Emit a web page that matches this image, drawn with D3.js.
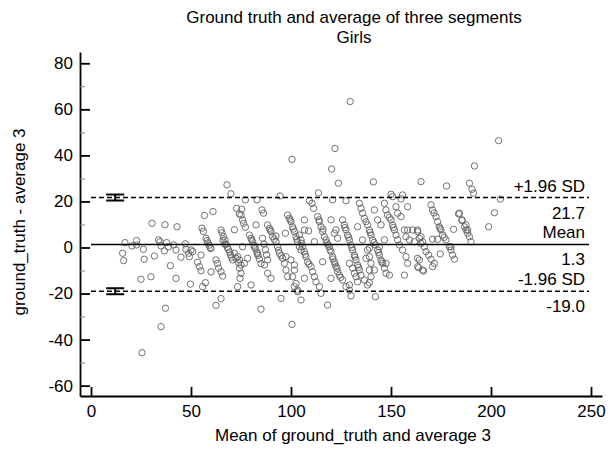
<!DOCTYPE html>
<html>
<head>
<meta charset="utf-8">
<script src="https://cdn.jsdelivr.net/npm/d3@7"></script>
<style>
  body { margin: 0; background: #fff; }
  svg text { font-family: "Liberation Sans", Arial, sans-serif; font-size: 17px; fill: #000; }
</style>
</head>
<body>
<div id="chart"></div>
<script>
// [mean, difference] pairs
const sparseLeft = [
  [17.0,2.1],[15.8,-2.5],[16.3,-5.7],[20.5,0.7],[22.8,3.0],[22.8,1.1],[26.2,-0.8],[26.6,-5.1],
  [25.0,-13.8],[25.5,-45.7],[30.5,10.5],[31.7,-3.7],[30.0,-12.7],[35.0,-34.4],[37.2,-26.4],
  [33.8,3.3],[34.5,2.5],[37.0,9.9],[35.0,0.7],[37.8,2.1],[36.7,-1.5],[38.7,0.3],[39.7,-7.9],
  [43.0,9.0],[42.5,-1.1],[42.5,-13.4],[41.3,1.1],[45.0,-4.2],[47.2,1.6],[47.5,-0.8],[48.8,-2.5],
  [50.0,-1.1],[50.8,-1.8],[49.2,-4.0],[49.7,-15.9],[53.3,-6.4],[54.2,-8.3],[55.0,-10.1],[55.0,-3.3]
];
const band55to100 = [
  [55.5,8.4],[56.2,7.0],[56.7,13.9],[61.0,15.6],[57.5,4.0],[58.0,3.0],[58.5,2.0],[59.0,1.0],[59.5,0.0],[60.0,-0.5],
  [60.0,-10.6],[62.5,-5.4],[63.2,-6.9],[63.8,-9.0],[65.0,-10.5],[65.8,-12.4],[55.8,-17.0],[57.2,-15.3],
  [62.5,-25.1],[65.0,-22.2],[65.0,7.6],[65.5,6.4],[66.2,4.7],[67.0,3.3],[67.5,1.4],[68.2,0.0],[68.7,-0.9],
  [69.3,-2.0],[69.8,-3.3],[70.3,-4.3],[70.8,-5.4],[66.0,3.0],[66.8,1.5],
  [68.0,27.2],[70.0,23.3],[71.7,7.7],[72.8,17.0],[75.3,16.6],[75.0,14.1],[75.8,11.9],[76.3,10.5],[77.2,8.8],[74.2,14.6],
  [71.7,-2.5],[73.3,-4.0],[74.2,-5.4],[75.0,-7.6],[74.2,-9.0],[75.0,-11.2],[74.5,-13.4],[73.3,-17.0],[72.5,-4.7],[73.8,-6.6],
  [75.8,0.3],[78.3,-4.7],[76.7,-6.9],[77.2,20.7],[80.0,-16.3],
  [82.5,9.8],[83.0,20.7],[85.5,16.3],[86.3,14.9],
  [79.2,5.4],[80.0,4.0],[80.8,2.5],[81.5,1.0],[82.2,-0.5],[83.0,-2.0],[83.5,-3.5],[84.2,-5.0],[85.0,-7.0],
  [80.4,3.2],[81.8,0.2],[83.2,-2.7],
  [85.8,4.0],[86.5,1.5],[87.2,-1.0],[87.8,-3.2],[88.3,-5.4],
  [86.7,-7.6],[88.3,-11.2],[90.0,-13.4],[85.0,-26.8],[95.0,-22.1],[100.5,-33.4],
  [88.3,9.8],[89.2,8.3],[90.0,6.9],[90.8,4.7],[92.5,2.5],[93.3,0.3],[94.2,-2.5],[95.8,-4.7],[96.7,-6.9],
  [97.5,-9.8],[98.3,-12.7],[89.6,7.6],[91.6,3.6],[93.8,-1.2],[95.0,-3.6],
  [97.2,6.2],[92.5,5.0],[94.5,22.4],[100.5,38.3],
  [98.3,14.1],[99.2,12.7],[100.0,11.2],[100.8,9.0],[101.7,6.9],[102.5,4.7],[103.3,2.5],[104.2,0.3],[105.0,-1.1],
  [99.6,12.0],[101.2,8.0],[102.9,3.6],
  [97.5,-4.0],[100.0,-5.4],[101.7,-7.6],[101.7,-9.8],[100.8,-12.7],[102.5,-15.6],[103.3,-18.5],[101.7,-17.0],[103.3,-19.2]
];
const band100to140 = [
  [106.7,12.0],[106.7,7.6],[106.7,-13.4],[105.0,-22.8],[109.2,20.3],[110.5,19.2],[111.3,17.0],[108.8,7.2],[111.7,2.5],
  [104.2,5.4],[105.0,3.3],[105.8,0.3],[106.7,-1.8],[107.5,-4.0],[108.3,-6.2],[110.0,-8.3],[110.8,-10.5],[111.7,-12.7],
  [112.5,-14.9],[114.2,-17.0],[115.0,-19.9],[105.4,1.8],[107.1,-3.0],[109.0,-7.2],
  [118.3,-25.0],[115.8,-6.2],[120.0,-13.4],[113.7,23.7],[120.8,20.7],[127.5,20.3],[120.3,34.1],[122.0,43.0],[123.7,27.9],[129.6,63.4],
  [113.3,13.4],[114.2,11.2],[115.0,9.0],[115.8,6.9],[116.7,4.7],[117.5,3.3],[119.2,0.3],[120.0,-1.8],[120.8,-4.0],
  [121.7,-6.2],[122.5,-8.3],[123.3,-10.5],[124.2,-12.0],[125.8,-14.1],[127.5,-17.0],[129.2,-18.5],[130.0,-21.0],
  [114.0,12.0],[116.0,8.0],[118.0,2.0],[119.5,-1.0],[121.0,-5.0],[123.0,-9.0],[118.5,1.2],[122.0,-7.2],[124.8,-13.0],
  [120.0,12.0],[122.5,7.6],[121.7,6.2],[123.3,4.0],
  [125.8,12.0],[126.7,9.8],[127.5,7.6],[128.3,5.4],[129.2,3.3],[130.0,1.1],[130.8,-1.1],[131.7,-3.3],[132.5,-5.4],
  [133.3,-7.6],[134.2,-9.8],[135.0,-12.0],[136.7,-14.1],[138.3,-16.3],[127.0,8.6],[128.8,4.4],[130.4,0.0],[132.0,-4.2],[133.8,-8.6],
  [129.2,-6.9],[130.8,-9.0],[131.7,-11.2],[132.5,-12.7],[133.3,-14.9],[129.2,-16.3],
  [133.3,9.0],[135.8,3.3],[138.3,-1.1],[139.2,-4.0],[140.0,-6.9],[139.2,-9.8],[140.0,-12.7],[139.2,-15.3],[142.2,-21.4],
  [137.5,-4.7],[139.2,-0.3]
];
const band135to170 = [
  [134.2,19.2],[135.0,17.0],[135.8,14.9],[136.7,12.7],[138.3,9.8],[139.2,7.6],[140.0,5.4],[140.8,3.3],[142.2,1.1],
  [143.3,-1.1],[144.2,-3.3],[145.0,-5.4],[145.8,-6.9],[146.7,-9.0],[147.5,-11.2],[137.5,11.2],[139.6,6.5],[141.5,2.2],
  [143.8,-2.2],[145.4,-6.2],
  [141.7,16.3],[143.3,12.0],[145.0,9.8],[146.7,3.3],[144.2,0.3],[141.7,-9.8],[141.2,28.5],
  [146.7,19.2],[147.5,16.3],[148.3,14.1],[150.0,12.0],[150.8,9.8],[151.7,7.6],[152.5,5.4],[153.3,3.3],[154.2,1.1],
  [149.2,13.0],[151.2,8.7],
  [150.8,22.1],[152.5,17.7],[153.3,14.9],[155.0,13.4],[158.3,17.7],[150.0,23.1],[155.8,22.8],[155.0,21.1],
  [156.7,7.6],[158.3,7.6],[160.8,7.6],[163.3,6.9],[157.5,4.7],[159.2,3.3],[161.7,2.5],[164.2,4.0],[165.0,1.8],
  [155.8,-1.1],[157.5,-4.0],[158.3,-6.9],[156.7,-12.0],[163.3,-4.7],[163.3,-8.3],[165.8,-9.8],[147.5,-6.9],[149.2,-12.0],
  [165.0,28.6]
];
const band160to210 = [
  [166.3,-10.2],[163.8,-8.8],[170.8,-8.3],[171.7,-6.9],[170.0,-5.1],[168.8,-3.3],[167.5,-1.8],[166.7,0.3],[165.8,2.5],
  [165.0,4.7],[163.3,7.6],[164.2,-5.4],
  [170.0,18.5],[170.8,16.3],[172.5,13.4],[173.3,11.2],[174.2,9.0],[175.0,7.6],[175.8,5.4],[177.5,3.3],[179.2,0.3],
  [180.0,-1.1],[180.8,-3.3],[181.7,-5.1],[171.5,15.0],[174.6,8.2],[176.6,4.4],
  [181.3,7.9],[184.2,14.9],[185.5,12.0],[187.5,9.8],[188.3,7.6],[174.6,-2.8],[180.0,0.3],
  [183.8,14.6],[185.5,11.7],[186.7,9.0],[187.5,7.6],[188.3,6.2],[189.2,4.7],[190.0,2.5],
  [170.8,3.6],[173.3,3.6],
  [177.8,26.7],[189.2,27.9],[190.5,25.3],[191.3,23.6],[191.7,35.4],[203.8,46.4],[204.7,21.0],[201.7,15.1],[198.8,9.0]
];

const limitNames = ["+1.96 SD", "Mean", "-1.96 SD"];
const limitValues = [21.7, 1.3, -19.0];
const limitCI = [[20.4, 23.0], null, [-20.3, -17.7]];
const ciMeanX = 12.1;
const lineRange = [0, 249];
const xTicks = [0, 50, 100, 150, 200, 250];
const yTicks = [-60, -40, -20, 0, 20, 40, 60, 80];
const yMinorTicks = [-50, -30, -10, 10, 30, 50, 70];

const points = [].concat(sparseLeft, band55to100, band100to140, band135to170, band160to210);

const width = 616, height = 452;
const svg = d3.select("#chart").append("svg")
  .attr("width", width).attr("height", height);

const x = d3.scaleLinear().domain([-5.5, 255.5]).range([80, 602]);
const y = d3.scaleLinear().domain([-64.5, 84.9]).range([396, 52]);

// plain hyphen for negatives, like the original
const fmt = v => String(v);

// title
svg.append("text").attr("x", 354).attr("y", 23).attr("text-anchor", "middle")
  .text("Ground truth and average of three segments");
svg.append("text").attr("x", 354).attr("y", 43).attr("text-anchor", "middle")
  .text("Girls");

// points
svg.append("g").selectAll("circle")
  .data(points)
  .enter()
  .append("circle")
    .attr("cx", d => x(d[0]))
    .attr("cy", d => y(d[1]))
    .attr("r", 3.2)
    .attr("fill", "none")
    .attr("stroke", "#626262")
    .attr("stroke-width", 0.9);

// limit lines
limitValues.forEach((v, i) => {
  svg.append("line")
    .attr("x1", x(lineRange[0])).attr("x2", x(lineRange[1]))
    .attr("y1", y(v)).attr("y2", y(v))
    .attr("stroke", "#000")
    .attr("stroke-width", 1.5)
    .attr("stroke-dasharray", i === 1 ? null : "5,3");
  svg.append("text").attr("x", x(247)).attr("y", y(v) - 6).attr("text-anchor", "end")
    .text(limitNames[i]);
  svg.append("text").attr("x", x(247)).attr("y", y(v) + 21).attr("text-anchor", "end")
    .text(v.toFixed(1));
});

// confidence intervals of the limits
limitCI.forEach(ci => {
  if (!ci) return;
  const g = svg.append("g").attr("stroke", "#000").attr("stroke-width", 2);
  const cx = x(ciMeanX);
  g.append("line").attr("x1", cx).attr("x2", cx).attr("y1", y(ci[0])).attr("y2", y(ci[1]));
  ci.forEach(c => {
    g.append("line").attr("x1", cx - 9).attr("x2", cx + 9).attr("y1", y(c)).attr("y2", y(c));
  });
});

// axes
const xAxis = svg.append("g").attr("transform", "translate(0,396)")
  .call(d3.axisBottom(x).tickValues(xTicks).tickFormat(fmt).tickSizeInner(-9).tickSizeOuter(0).tickPadding(9));
const yAxis = svg.append("g").attr("transform", "translate(80,0)")
  .call(d3.axisLeft(y).tickValues(yTicks).tickFormat(fmt).tickSizeInner(-10).tickSizeOuter(0).tickPadding(7));
svg.append("g").attr("transform", "translate(80,0)")
  .call(d3.axisLeft(y).tickValues(yMinorTicks).tickSizeInner(-5).tickSizeOuter(0).tickFormat(""))
  .call(g => g.select(".domain").remove())
  .selectAll("line").attr("stroke", "#888");

[xAxis, yAxis].forEach(a => {
  a.select(".domain").attr("stroke-width", 1.8);
  a.selectAll(".tick line").attr("stroke-width", 1.8);
  a.selectAll("text").attr("font-size", 17).attr("font-family", "Liberation Sans, Arial, sans-serif");
});

// axis labels
svg.append("text").attr("x", 353).attr("y", 441).attr("text-anchor", "middle")
  .text("Mean of ground_truth and average 3");
svg.append("text").attr("transform", "translate(25,222) rotate(-90)").attr("text-anchor", "middle")
  .text("ground_truth - average 3");
</script>
</body>
</html>
